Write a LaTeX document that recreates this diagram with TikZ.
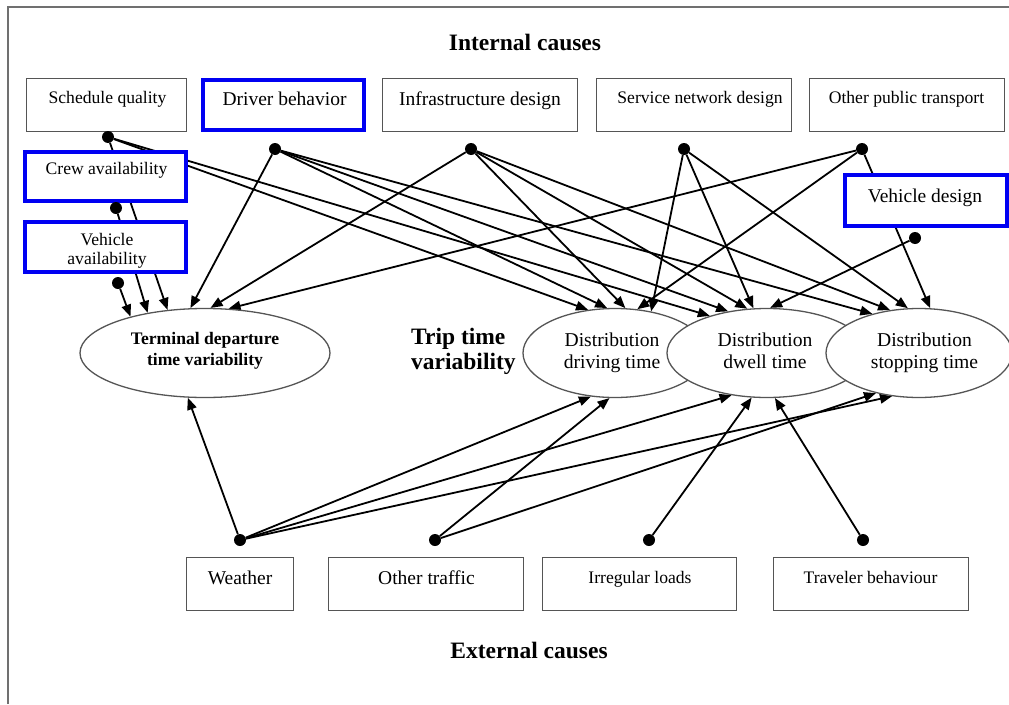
\documentclass[tikz,border=0pt]{standalone}
\usepackage{fontspec}
\setmainfont{Liberation Serif}
\usetikzlibrary{shapes.geometric,arrows.meta}
\pgfdeclarelayer{paper}
\pgfdeclarelayer{links}
\pgfsetlayers{paper,links,main}
\definecolor{framegray}{HTML}{707070}
\definecolor{boxgray}{HTML}{555555}
\definecolor{hiblue}{HTML}{0000F2}
\begin{document}
\begin{tikzpicture}[x=1pt,y=-1pt,
  causebox/.style={draw=boxgray,line width=1.4pt,fill=white,inner sep=0pt},
  hibox/.style={draw=hiblue,line width=4pt,fill=white,inner sep=0pt},
  effect/.style={ellipse,draw=boxgray,line width=1.3pt,fill=white,inner sep=0pt,minimum height=89pt},
  srcdot/.style={circle,fill=black,inner sep=0pt,minimum size=12pt},
  lbl/.style={anchor=base,inner sep=0pt},
  txtA/.style={lbl,font=\fontsize{17.6pt}{21pt}\selectfont},
  txtB/.style={lbl,font=\fontsize{19.5pt}{23pt}\selectfont},
  txtD/.style={lbl,font=\fontsize{19.6pt}{23pt}\selectfont},
  txtT/.style={lbl,font=\fontsize{17.6pt}{21pt}\selectfont\bfseries},
  title/.style={lbl,font=\fontsize{23.5pt}{28pt}\selectfont\bfseries},
  link/.style={line width=1.8pt,draw=black,-{Triangle[length=12pt,width=9.5pt]}}
]
\useasboundingbox (0,0) rectangle (1009,704);
\begin{pgfonlayer}{paper}
\fill[white] (0,0) rectangle (1009,704);
\end{pgfonlayer}

% frame
\draw[framegray,line width=1.5pt] (8,704) -- (8,7) -- (1009,7);

% headings
\node[title] (inthead) at (525,50) {Internal causes};
\node[title] (exthead) at (529,658) {External causes};
\node[title,anchor=base west] (trip1) at (411,344) {Trip time};
\node[title,anchor=base west] (trip2) at (411,369) {variability};

% internal causes
\node[causebox,minimum width=160pt,minimum height=53pt] (sched)   at (106.5,105) {};
\node[hibox,minimum width=161pt,minimum height=50pt]    (driver)  at (283.5,105) {};
\node[causebox,minimum width=195pt,minimum height=53pt] (infra)   at (480,105) {};
\node[causebox,minimum width=195pt,minimum height=53pt] (svcnet)  at (694,105) {};
\node[causebox,minimum width=195pt,minimum height=53pt] (otherpt) at (907,105) {};
\node[hibox,minimum width=161pt,minimum height=49pt]    (crew)    at (105.5,176.5) {};
\node[hibox,minimum width=161pt,minimum height=50pt]    (vehav)   at (105.5,247) {};
\node[hibox,minimum width=162pt,minimum height=51pt]    (vehdes)  at (926,200.5) {};

\node[txtA] (schedt)   at (107.5,103) {Schedule quality};
\node[txtB] (drivert)  at (284.5,105) {Driver behavior};
\node[txtB] (infrat)   at (480,105) {Infrastructure design};
\node[txtA] (svcnett)  at (700,103) {Service network design};
\node[txtA] (otherptt) at (906.5,103) {Other public transport};
\node[txtA] (crewt)    at (106.5,174) {Crew availability};
\node[txtA] (vehavt)   at (107,245) {Vehicle};
\node[txtA] (vehavt2)  at (107,264) {availability};
\node[txtB] (vehdest)  at (925,202) {Vehicle design};

% external causes
\node[causebox,minimum width=107pt,minimum height=53pt] (weather)  at (240,584) {};
\node[causebox,minimum width=195pt,minimum height=53pt] (traffic)  at (426,584) {};
\node[causebox,minimum width=194pt,minimum height=53pt] (loads)    at (639.5,584) {};
\node[causebox,minimum width=195pt,minimum height=53pt] (traveler) at (871,584) {};

\node[txtB] (weathert)  at (240,584) {Weather};
\node[txtB] (traffict)  at (426.5,584) {Other traffic};
\node[txtA] (loadst)    at (640,583) {Irregular loads};
\node[txtA] (travelert) at (870.5,583) {Traveler behaviour};

% effects
\node[effect,minimum width=250pt] (term)    at (205,353) {};
\node[effect,minimum width=184pt] (drvtime) at (615,353) {};
\node[effect,minimum width=200pt] (dwell)   at (767,353) {};
\node[effect,minimum width=186pt] (stop)    at (919,353) {};

\node[txtT] (termt1) at (205,344) {Terminal departure};
\node[txtT] (termt2) at (205,365) {time variability};
\node[txtD] (drvt1)  at (612,346) {Distribution};
\node[txtD] (drvt2)  at (612,368) {driving time};
\node[txtD] (dwlt1)  at (765,346) {Distribution};
\node[txtD] (dwlt2)  at (765,368) {dwell time};
\node[txtD] (stpt1)  at (924.5,346) {Distribution};
\node[txtD] (stpt2)  at (924.5,368) {stopping time};

% source points
\node[srcdot] (dsched)    at (108,137) {};
\node[srcdot] (ddriver)   at (275,149) {};
\node[srcdot] (dinfra)    at (471,149) {};
\node[srcdot] (dsvc)      at (684,149) {};
\node[srcdot] (dopt)      at (862,149) {};
\node[srcdot] (dcrew)     at (116,208) {};
\node[srcdot] (dvehav)    at (118,283) {};
\node[srcdot] (dvehdes)   at (915,238) {};
\node[srcdot] (dweather)  at (240,540) {};
\node[srcdot] (dtraffic)  at (435,540) {};
\node[srcdot] (dloads)    at (649,540) {};
\node[srcdot] (dtraveler) at (863,540) {};

% influences, drawn beneath the boxes they pass behind
\begin{pgfonlayer}{links}
\draw[link] (dsched) -- (term.131.9);
\draw[link] (dsched) -- (drvtime.122.4);
\draw[link] (dsched) -- (dwell.147.3);
\draw[link] (dcrew) -- (term.145.2);
\draw[link] (dvehav) -- (term.154.6);

\draw[link] (ddriver) -- (term.108.7);
\draw[link] (ddriver) -- (drvtime.100.2);
\draw[link] (ddriver) -- (dwell.133.6);
\draw[link] (ddriver) -- (stop.140.7);

\draw[link] (dinfra) -- (term.83.6);
\draw[link] (dinfra) -- (drvtime.77.3);
\draw[link] (dinfra) -- (dwell.114.6);
\draw[link] (dinfra) -- (stop.124.4);

\draw[link] (dsvc) -- (drvtime.49.6);
\draw[link] (dsvc) -- (dwell.107.6);
\draw[link] (dsvc) -- (stop.104);

\draw[link] (dopt) -- (term.62.2);
\draw[link] (dopt) -- (drvtime.63);
\draw[link] (dopt) -- (stop.76);

\draw[link] (dvehdes) -- (dwell.86.1);

\draw[link] (dweather) -- (term.249);
\draw[link] (dweather) -- (drvtime.241.9);
\draw[link] (dweather) -- (dwell.230.9);
\draw[link] (dweather) -- (stop.238.7);

\draw[link] (dtraffic) -- (drvtime.263.6);
\draw[link] (dtraffic) -- (stop.223.4);

\draw[link] (dloads) -- (dwell.251.2);
\draw[link] (dtraveler) -- (dwell.280.2);
\end{pgfonlayer}
\end{tikzpicture}
\end{document}
